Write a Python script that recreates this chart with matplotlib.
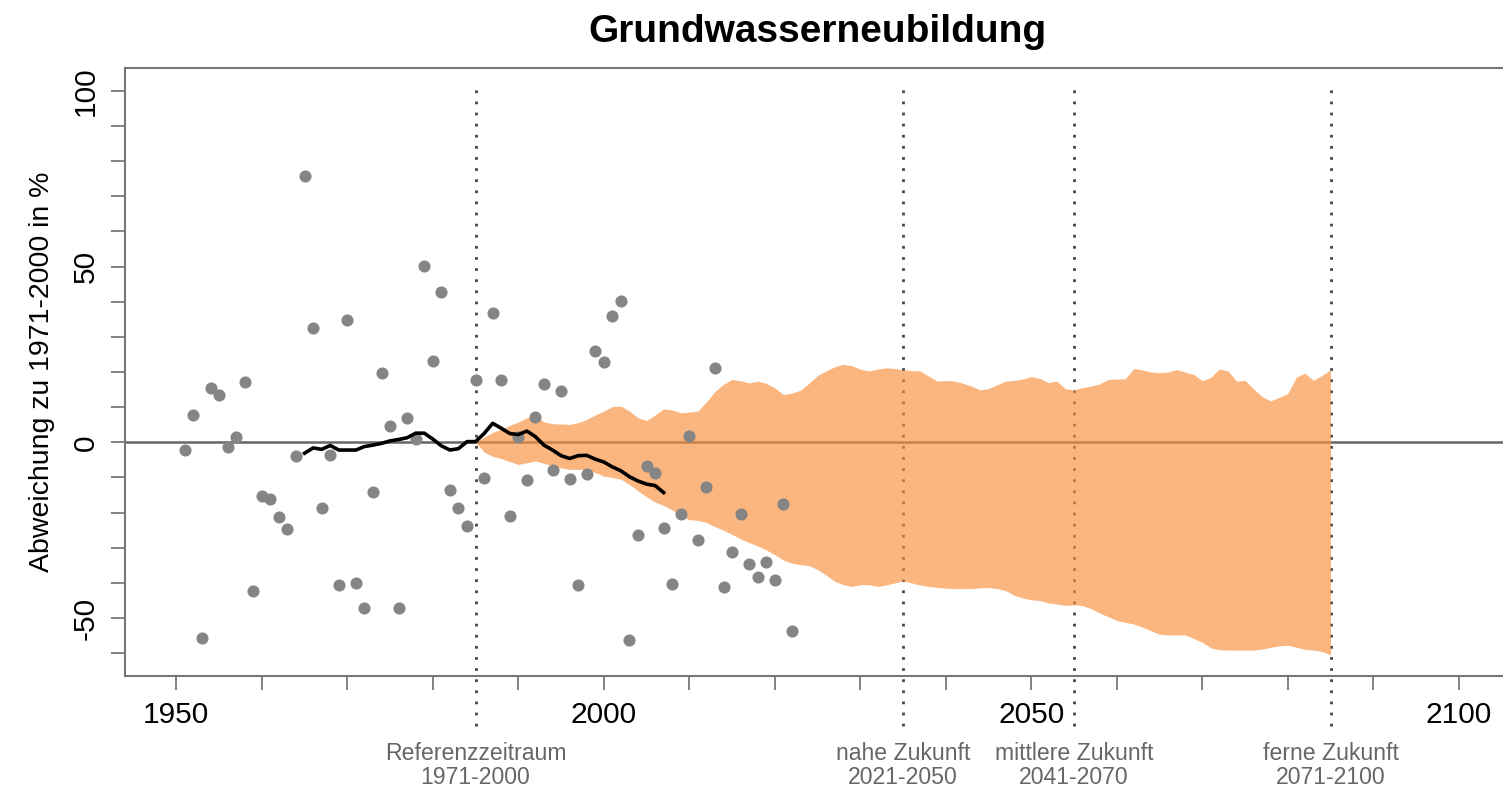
import numpy as np
import matplotlib
matplotlib.use('Agg')
import matplotlib.pyplot as plt

plt.rcParams['font.family'] = ['Liberation Sans', 'DejaVu Sans']

# beobachtete Jahreswerte (Abweichung in %)
jahre = list(range(1951, 2023))
werte = [-2.3, 7.9, -55.8, 15.5, 13.6, -1.2, 1.6, 17.1, -42.2, -15.4,
         -16.2, -21.2, -24.6, -3.9, 75.8, 32.6, -18.8, -3.6, -40.6, 34.7,
         -39.9, -47.2, -14.1, 19.7, 4.5, -47.2, 6.9, 0.9, 50.1, 23.1,
         42.8, -13.6, -18.6, -23.9, 17.7, -10.1, 36.8, 17.7, -20.9, 1.6,
         -10.7, 7.3, 16.6, -8.0, 14.5, -10.5, -40.6, -9.0, 25.9, 22.8,
         35.9, 40.1, -56.2, -26.4, -6.7, -8.8, -24.3, -40.3, -20.5, 1.8,
         -27.7, -12.8, 21.0, -41.2, -31.2, -20.5, -34.6, -38.3, -34.0, -39.1,
         -17.6, -53.6]

# gleitendes Mittel (30 Jahre)
mittel_jahre = list(range(1965, 2008))
mittel_werte = [-3.1, -1.6, -2.0, -0.9, -2.2, -2.2, -2.2, -1.2, -0.8, -0.3,
                0.4, 0.8, 1.3, 2.6, 2.6, 0.9, -1.0, -2.2, -1.8, 0.2,
                0.2, 2.5, 5.4, 4.0, 2.5, 2.2, 3.2, 1.6, -0.8, -2.2,
                -3.8, -4.6, -3.8, -3.7, -4.8, -5.6, -7.0, -8.1, -9.8, -11.0,
                -11.9, -12.3, -14.3]

# Spannweite der Projektionen
band_jahre = list(range(1985, 2086))
band_oben = [0.0, 1.5, 2.8, 3.7, 4.8, 5.8, 7.0, 7.6, 5.8, 5.3,
             5.2, 5.1, 5.6, 6.5, 7.8, 8.9, 10.2, 10.3, 8.9, 7.0,
             6.2, 7.8, 9.5, 9.2, 8.4, 8.6, 8.9, 11.5, 14.5, 16.5,
             17.9, 17.5, 16.9, 17.4, 16.8, 15.5, 13.6, 14.0, 14.8, 16.8,
             19.0, 20.3, 21.5, 22.2, 21.8, 20.8, 20.3, 20.8, 21.2, 21.0,
             20.6, 20.4, 20.3, 18.8, 17.4, 17.6, 17.4, 16.8, 16.0, 14.9,
             15.3, 16.4, 17.4, 17.6, 18.0, 18.7, 18.2, 17.0, 17.4, 15.2,
             14.9, 15.6, 16.0, 16.6, 17.9, 18.0, 18.1, 21.0, 20.6, 20.0,
             19.8, 20.0, 20.7, 20.0, 19.3, 17.5, 18.5, 20.9, 20.3, 17.4,
             17.6, 15.2, 13.0, 11.8, 12.8, 13.9, 18.5, 19.7, 17.6, 19.0,
             20.7]
band_unten = [0.0, -2.8, -4.0, -4.6, -5.5, -6.3, -5.8, -5.3, -6.0, -6.7,
              -7.3, -7.7, -7.7, -7.7, -8.6, -9.6, -10.0, -10.5, -12.0, -13.8,
              -15.5, -17.0, -18.0, -19.2, -21.0, -22.0, -22.2, -22.8, -24.0, -25.0,
              -26.2, -27.5, -28.5, -29.5, -30.6, -32.0, -33.5, -34.4, -34.8, -35.1,
              -36.2, -37.8, -39.5, -40.5, -41.0, -40.5, -40.5, -41.0, -40.6, -40.0,
              -39.4, -40.0, -40.6, -41.0, -41.3, -41.5, -41.6, -41.6, -41.6, -41.4,
              -41.3, -41.6, -42.2, -43.5, -44.3, -44.8, -45.0, -45.7, -46.0, -46.4,
              -46.2, -46.5, -47.3, -48.6, -49.6, -50.7, -51.2, -51.7, -52.6, -53.6,
              -54.6, -54.8, -54.8, -54.8, -55.8, -56.9, -58.5, -59.0, -59.1, -59.1,
              -59.1, -59.1, -58.8, -58.3, -57.9, -57.7, -58.3, -58.9, -59.1, -59.5,
              -60.5]

# Zeiträume
perioden_x = [1985, 2035, 2055, 2085]
perioden_text = ['Referenzzeitraum\n1971-2000', 'nahe Zukunft\n2021-2050',
                 'mittlere Zukunft\n2041-2070', 'ferne Zukunft\n2071-2100']

fig = plt.figure(figsize=(15.03, 7.92), dpi=100)
ax = fig.add_axes([0.0832, 0.1468, 0.9215, 0.767])

ax.axhline(0, color='#666666', lw=1.8, zorder=1)
ax.vlines(perioden_x, -80.6, 102.4, colors='#444444', lw=2.0,
          linestyles=(0, (1, 3)), clip_on=False, zorder=2)
ax.fill_between(band_jahre, band_unten, band_oben, color='#F9913F',
                alpha=0.66, lw=0, zorder=3)
ax.scatter(jahre, werte, s=76, color='#858585', lw=0, zorder=4)
ax.plot(mittel_jahre, mittel_werte, color='black', lw=2.6, zorder=5)

for x, t in zip(perioden_x, perioden_text):
    ax.text(x, -92.0, t, ha='center', va='center', fontsize=16.6,
            color='#666666', linespacing=1.05, clip_on=False)

ax.set_xlim(1944, 2106)
ax.set_ylim(-66.4, 106.4)

xt = list(range(1950, 2101, 10))
ax.set_xticks(xt)
ax.set_xticklabels([str(v) if v % 50 == 0 else '' for v in xt])
yt = list(range(-60, 101, 10))
ax.set_yticks(yt)
ax.set_yticklabels([str(v) if v % 50 == 0 else '' for v in yt],
                   rotation=90, va='center')
ax.tick_params(axis='both', length=10, width=1.3, color='#777777',
               labelsize=21.5, pad=8)

for s in ['top', 'left', 'bottom']:
    ax.spines[s].set_color('#777777')
    ax.spines[s].set_linewidth(1.5)
ax.spines['right'].set_visible(False)

ax.set_ylabel('Abweichung zu 1971-2000 in %', fontsize=20.5, labelpad=12)
ax.set_title('Grundwasserneubildung', fontsize=28, fontweight='bold', pad=19)

fig.savefig('out.png', dpi=100)
